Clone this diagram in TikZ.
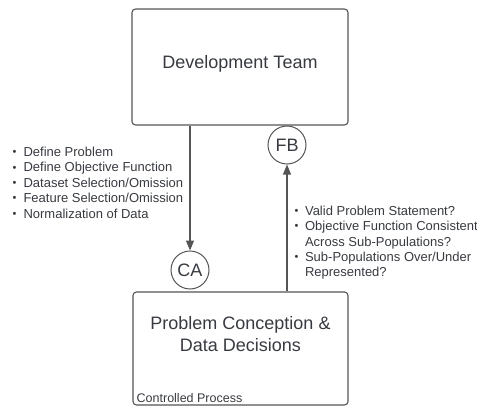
\documentclass[tikz,border=0pt]{standalone}
\usepackage{fontspec}
\setmainfont{Liberation Sans}
\usetikzlibrary{arrows.meta}
\definecolor{linegray}{RGB}{85,85,85}
\definecolor{txtgray}{RGB}{55,58,64}
\tikzset{
  box/.style={draw=linegray, line width=1.1pt, rounded corners=3.5pt, rectangle, inner sep=0pt},
  ctl/.style={draw=linegray, line width=1pt, circle, minimum size=38pt, inner sep=0pt, text=txtgray, font=\fontsize{18}{20}\selectfont},
  conn/.style={draw=linegray, line width=1.1pt, -{Triangle[length=10pt,width=8pt]}},
  big/.style={text=txtgray, font=\fontsize{18}{22}\selectfont, align=center, inner sep=0pt},
  lst/.style={text=txtgray, font=\fontsize{13}{15.4}\selectfont, inner sep=0pt, align=left},
}
\newcommand{\bul}{\raisebox{0.1ex}{\fontsize{11}{11}\selectfont •}}
\begin{document}
\begin{tikzpicture}[x=1pt,y=-1pt]
\useasboundingbox (0,0) rectangle (477,407);
\node[box, minimum width=216pt, minimum height=116pt] (dev) at (240,67) {};
\node[big] (devt) at (240,64) {Development Team};
\node[box, minimum width=215pt, minimum height=113pt] (pcd) at (240.5,348.5) {};
\node[big] (pcdt) at (240.5,334) {Problem Conception \&\\Data Decisions};
\node[text=txtgray, font=\fontsize{12.5}{14}\selectfont, inner sep=0pt, anchor=base west] (cp) at (136.5,402.5) {Controlled Process};
\node[ctl] (ca) at (190,270) {CA};
\node[ctl] (fb) at (287,145) {FB};
\draw[conn] (dev.south -| ca) -- (ca.north);
\draw[conn] (pcd.north -| fb) -- (fb.south);
\node[lst, anchor=north west] (l1) at (12.5,145.5) {%
\begin{tabular}{@{}l@{\hspace{7pt}}l@{}}
\bul & Define Problem\\
\bul & Define Objective Function\\
\bul & Dataset Selection/Omission\\
\bul & Feature Selection/Omission\\
\bul & Normalization of Data
\end{tabular}};
\node[lst, anchor=north west] (l2) at (294.5,204.3) {%
\begin{tabular}{@{}l@{\hspace{6.5pt}}l@{}}
\bul & Valid Problem Statement?\\
\bul & Objective Function Consistent\\
 & Across Sub-Populations?\\
\bul & Sub-Populations Over/Under\\
 & Represented?
\end{tabular}};
\end{tikzpicture}
\end{document}
